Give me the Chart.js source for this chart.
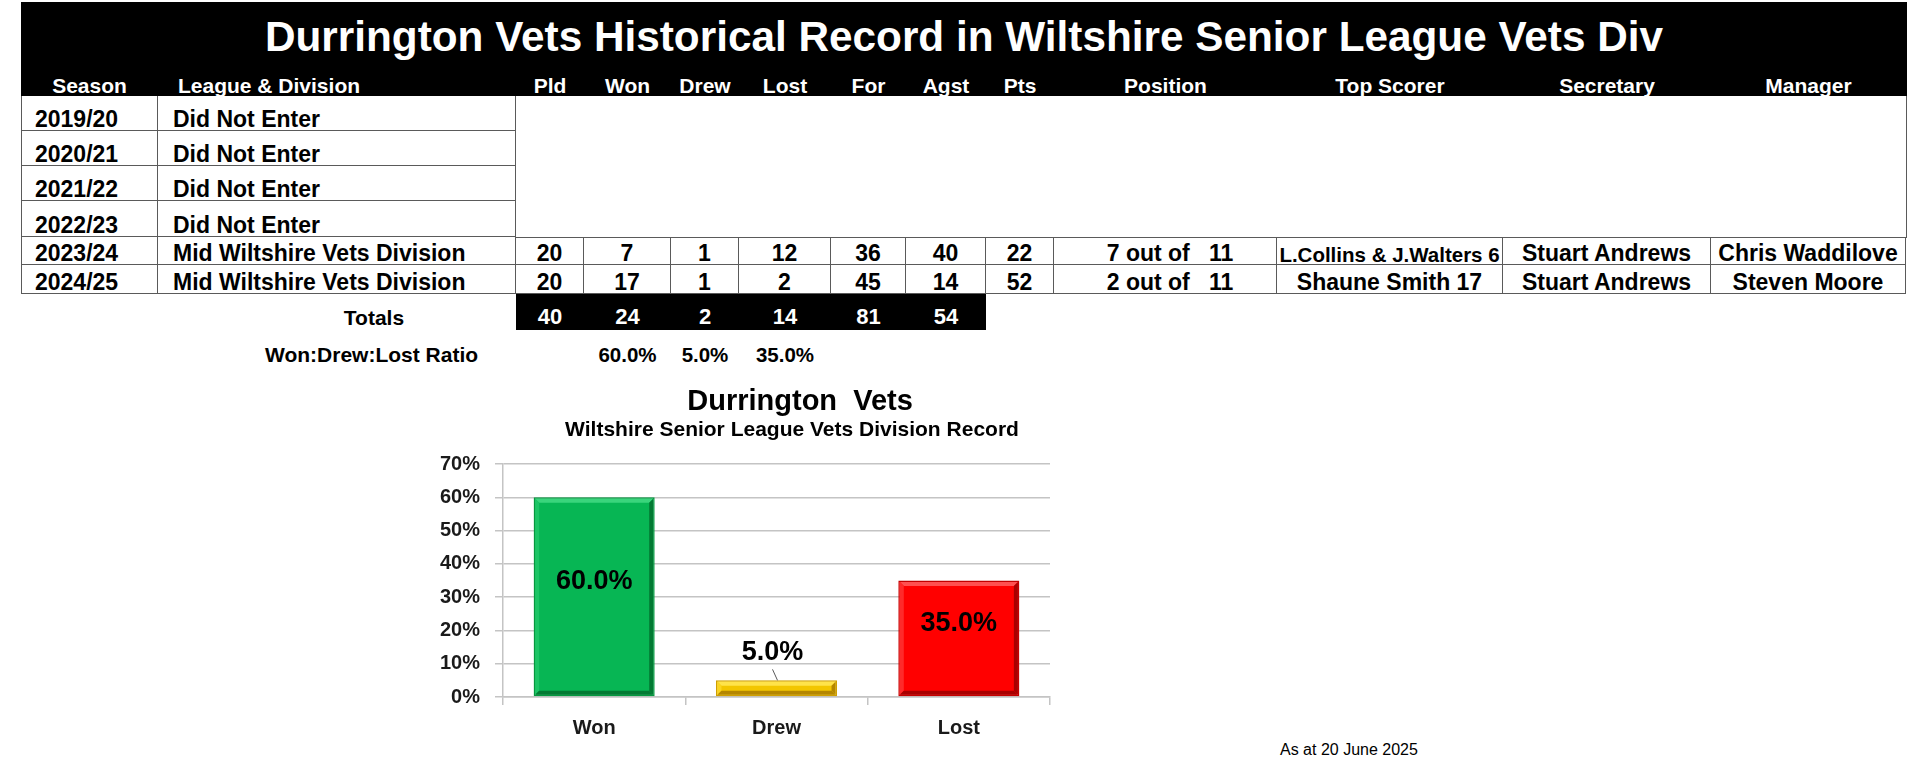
<!DOCTYPE html>
<html lang="en">
<head>
<meta charset="utf-8">
<title>Durrington Vets Historical Record</title>
<script src="https://cdn.jsdelivr.net/npm/chart.js@4.4.1/dist/chart.umd.min.js"></script>
<style>
html,body{margin:0;padding:0;background:#fff;}
body{width:1920px;height:760px;position:relative;overflow:hidden;
  font-family:"Liberation Sans",Arial,sans-serif;font-weight:bold;color:#000;}
.band{position:absolute;background:#000;}
.cell{position:absolute;box-sizing:border-box;display:flex;align-items:flex-end;
  justify-content:center;white-space:pre;line-height:normal;}
.cell span{position:relative;top:1.5px;}
.cell.bd span{top:2.5px;}
.cell.l{justify-content:flex-start;}
.bd{border-right:1px solid #5a5a5a;border-bottom:1px solid #5a5a5a;}
.vline{position:absolute;background:#5a5a5a;width:1px;}
#chartBox{position:absolute;left:400px;top:380px;width:784px;height:380px;}
#asAt{position:absolute;left:1280px;top:741px;font-size:16px;font-weight:normal;line-height:normal;}
</style>
</head>
<body>
<div id="sheet"></div>
<div id="chartBox"><canvas id="ratioChart"></canvas></div>
<div id="asAt">As at 20 June 2025</div>
<script>
/* ===========================
   Durrington Vets - league record
=========================== */

// table data
const sheetTitle = "Durrington Vets Historical Record in Wiltshire Senior League Vets Div";
const headers = ["Season","League & Division","Pld","Won","Drew","Lost","For","Agst","Pts","Position","Top Scorer","Secretary","Manager"];
const seasons = ["2019/20","2020/21","2021/22","2022/23","2023/24","2024/25"];
const leagues = ["Did Not Enter","Did Not Enter","Did Not Enter","Did Not Enter",
  "Mid Wiltshire Vets Division","Mid Wiltshire Vets Division"];

// only the last two seasons were played
const played = [20,20];
const won = [7,17];
const drew = [1,1];
const lost = [12,2];
const goalsFor = [36,45];
const goalsAgst = [40,14];
const points = [22,52];
const finish = [7,2];
const teams = [11,11];
const topScorer = ["L.Collins & J.Walters 6","Shaune Smith 17"];
const secretary = ["Stuart Andrews","Stuart Andrews"];
const manager = ["Chris Waddilove","Steven Moore"];

const totals = [40,24,2,14,81,54];

// chart data
const ratioLabels = ["Won","Drew","Lost"];
const ratioValues = [60.0,5.0,35.0];
const yTicks = [0,10,20,30,40,50,60,70];

// bar styles
const barFill  = ["#07b654","#f3c600","#ff0000"];
const barEdge  = ["#05983f","#cf9f00","#c40000"];
const barLight = ["#3ad57c","#ffe34a","#ff5050"];
const barSide  = ["#1cc565","#fbd520","#ff2a2a"];
const barDark  = ["#037a33","#b48600","#a80000"];


// ---------- spreadsheet part ----------
const colEdges = [21,158,516,584,671,739,831,906,986,1054,1277,1503,1711,1906];
const rowEdges = [96,131,166,201,237,265,294];
const sheet = document.getElementById("sheet");

function box(cls, x0, x1, y0, y1){
  const d = document.createElement("div");
  d.className = cls;
  d.style.position = "absolute";
  d.style.left = x0+"px";
  d.style.top = y0+"px";
  d.style.width = (x1-x0)+"px";
  d.style.height = (y1-y0)+"px";
  sheet.appendChild(d);
  return d;
}

function cell(text, x0, x1, y0, y1, size, opts){
  opts = opts || {};
  const d = box("cell"+(opts.left?" l":"")+(opts.border?" bd":""), x0, x1, y0, y1);
  d.style.fontSize = size+"px";
  if(opts.color) d.style.color = opts.color;
  if(opts.pad) d.style.paddingLeft = opts.pad+"px";
  const s = document.createElement("span");
  s.textContent = text;
  d.appendChild(s);
  if(opts.fit) d.dataset.fit = "1";
  return d;
}

// black title band with header row
box("band", 21, 1907, 2, 96);
cell(sheetTitle, 21, 1907, 2, 59, 42.3, {color:"#fff"});

headers.forEach((h,i)=>{
  const left = i===1;
  cell(h, colEdges[i], colEdges[i+1], 56, 96, 21, {color:"#fff", left:left, pad:left?20:0});
});

// seasons not entered
for(let r=0;r<4;r++){
  cell(seasons[r], colEdges[0], colEdges[1], rowEdges[r], rowEdges[r+1], 23, {left:true, pad:14, border:true});
  cell(leagues[r], colEdges[1], colEdges[2], rowEdges[r], rowEdges[r+1], 23, {left:true, pad:15, border:true});
}
box("bd", colEdges[2], colEdges[13], rowEdges[0], rowEdges[4]);
box("vline", colEdges[0], colEdges[0]+1, rowEdges[0], rowEdges[6]);

// seasons played
for(let k=0;k<2;k++){
  const r = k+4;
  const row = [seasons[r], leagues[r], played[k], won[k], drew[k], lost[k], goalsFor[k],
    goalsAgst[k], points[k], finish[k]+" out of   "+teams[k], topScorer[k], secretary[k], manager[k]];
  row.forEach((v,i)=>{
    const o = {border:true, fit:true};
    if(i===0){ o.left = true; o.pad = 14; }
    if(i===1){ o.left = true; o.pad = 15; }
    if(i===9){ o.pad = 10; }
    cell(String(v), colEdges[i], colEdges[i+1], rowEdges[r], rowEdges[r+1], 23, o);
  });
}

// totals
box("band", colEdges[2], colEdges[8], rowEdges[6], 330);
cell("Totals", 232, colEdges[2], rowEdges[6], 328, 21);
totals.forEach((t,i)=>{
  cell(String(t), colEdges[i+2], colEdges[i+3], rowEdges[6], 328, 22, {color:"#fff"});
});

// won:drew:lost ratio
cell("Won:Drew:Lost Ratio", 265, 520, 335, 365, 21, {left:true});
ratioValues.forEach((v,i)=>{
  cell(v.toFixed(1)+"%", colEdges[i+3], colEdges[i+4], 335, 365, 20.5);
});

// shrink to fit, like excel does
document.querySelectorAll("[data-fit]").forEach(d=>{
  const s = d.firstChild;
  let size = parseFloat(d.style.fontSize);
  while(s.offsetWidth > d.clientWidth - 4 && size > 10){
    size -= 0.5;
    d.style.fontSize = size+"px";
  }
});


// ---------- chart part ----------
Chart.defaults.font.family = '"Liberation Sans", Arial, sans-serif';

// 3d bevel on the bars
function face(c, pts, col){
  c.beginPath();
  c.moveTo(pts[0][0], pts[0][1]);
  for(let i=1;i<pts.length;i++) c.lineTo(pts[i][0], pts[i][1]);
  c.closePath();
  c.fillStyle = col;
  c.fill();
}

const bevelPlugin = {
  id:"bevel",
  afterDatasetsDraw(chart){
    const c = chart.ctx;
    c.save();
    chart.getDatasetMeta(0).data.forEach((bar,i)=>{
      const p = bar.getProps(["x","y","base","width"], true);
      const l = p.x - p.width/2 + 1.5, r = p.x + p.width/2 - 1.5;
      const t = p.y + 1.5, b = p.base - 1.5;
      const d = Math.min(4, (b-t)/2);
      face(c, [[l,t],[r,t],[r-d,t+d],[l+d,t+d]], barLight[i]);
      face(c, [[l,t],[l+d,t+d],[l+d,b-d],[l,b]], barSide[i]);
      face(c, [[r,t],[r,b],[r-d,b-d],[r-d,t+d]], barDark[i]);
      face(c, [[l,b],[l+d,b-d],[r-d,b-d],[r,b]], barDark[i]);
    });
    c.restore();
  }
};

// value labels (centre of bar, or above it with a leader line)
const valueLabelPlugin = {
  id:"valueLabels",
  afterDatasetsDraw(chart){
    const c = chart.ctx;
    c.save();
    c.font = 'bold 27px "Liberation Sans", Arial, sans-serif';
    c.fillStyle = "#000";
    c.textAlign = "center";
    c.textBaseline = "middle";
    chart.getDatasetMeta(0).data.forEach((bar,i)=>{
      const p = bar.getProps(["x","y","base"], true);
      const txt = ratioValues[i].toFixed(1)+"%";
      if(p.base - p.y > 40){
        c.fillText(txt, p.x, (p.y+p.base)/2 - 15);
      }else{
        const ly = p.y - 28;
        c.fillText(txt, p.x - 4, ly);
        c.strokeStyle = "#595959";
        c.lineWidth = 1;
        c.beginPath();
        c.moveTo(p.x - 4, ly + 17);
        c.lineTo(p.x + 1, p.y);
        c.stroke();
      }
    });
    c.restore();
  }
};

const gridGrey = "#c4c4c4";

new Chart(document.getElementById("ratioChart"), {
  type:"bar",
  data:{
    labels:ratioLabels,
    datasets:[{
      data:ratioValues,
      backgroundColor:barFill,
      borderColor:barEdge,
      borderWidth:1.5,
      borderSkipped:false,
      barPercentage:0.664,
      categoryPercentage:1
    }]
  },
  options:{
    animation:false,
    responsive:true,
    maintainAspectRatio:false,
    layout:{padding:{left:0,right:0,top:0,bottom:9}},
    plugins:{
      legend:{display:false},
      tooltip:{enabled:false},
      title:{
        display:true,
        // the two leading spaces nudge it right, as in the original
        text:"  Durrington  Vets",
        color:"#000",
        font:{size:29,weight:"bold"},
        padding:{top:4.6,bottom:-2}
      },
      subtitle:{
        display:true,
        text:"Wiltshire Senior League Vets Division Record",
        color:"#000",
        font:{size:21,weight:"bold"},
        padding:{top:0,bottom:21.4}
      }
    },
    scales:{
      x:{
        grid:{drawOnChartArea:false, offset:true, tickLength:8, color:gridGrey, lineWidth:1.5},
        border:{color:gridGrey, width:1.5},
        ticks:{color:"#1a1a1a", font:{size:20,weight:"bold"}, padding:11}
      },
      y:{
        min:yTicks[0],
        max:yTicks[yTicks.length-1],
        afterBuildTicks(s){ s.ticks = yTicks.map(v=>({value:v})); },
        afterFit(s){ s.width = 103; },
        grid:{color:gridGrey, tickLength:8, lineWidth:1.5},
        border:{color:gridGrey, width:1.5},
        ticks:{color:"#1a1a1a", font:{size:20,weight:"bold"}, padding:15,
          callback:v=>v+"%"}
      },
      // empty right-hand strip so the titles centre like the original
      pad:{
        type:"linear",
        position:"right",
        grid:{display:false},
        border:{display:false},
        ticks:{display:false},
        afterFit(s){ s.width = 134; }
      }
    }
  },
  plugins:[bevelPlugin, valueLabelPlugin]
});
</script>
</body>
</html>
